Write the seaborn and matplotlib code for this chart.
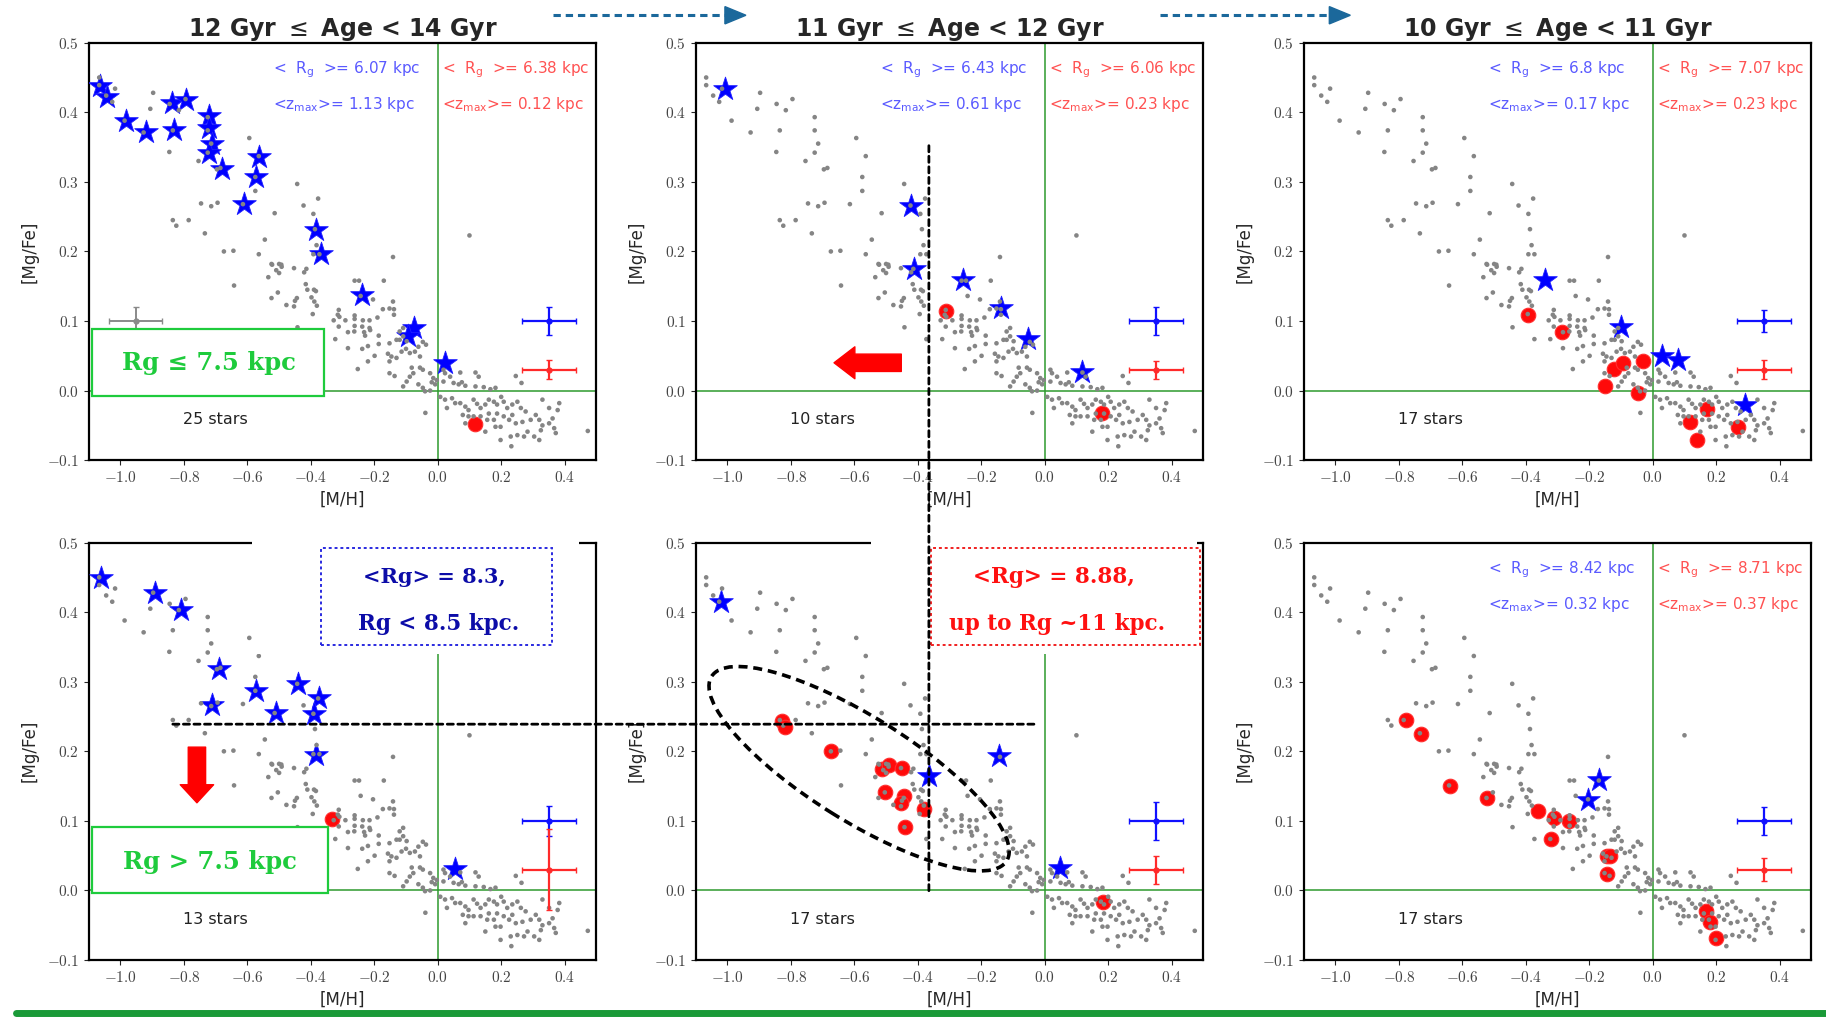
import numpy as np
import pandas as pd
import seaborn as sns
import matplotlib.pyplot as plt
from matplotlib.patches import Rectangle, Ellipse, ConnectionPatch
from matplotlib.lines import Line2D
from matplotlib.ticker import FuncFormatter
from matplotlib.transforms import IdentityTransform

sns.set_style('ticks')
plt.rcParams['font.family'] = ['DejaVu Sans']
plt.rcParams['mathtext.fontset'] = 'cm'

# gray background sample, same in every panel
bg_mh = [-1.067, -1.067, -1.017, -1.045, -1.026, -0.897, -0.906, -0.987, -0.927, -0.845,
         -0.816, -0.795, -0.835, -0.846, -0.725, -0.725, -0.714, -0.725, -0.754, -0.696,
         -0.685, -0.594, -0.564, -0.575, -0.575, -0.443, -0.377, -0.423, -0.392, -0.387,
         -0.382, -0.392, -0.373, -0.746, -0.714, -0.694, -0.614, -0.514, -0.835, -0.824,
         -0.785, -0.734, -0.545, -0.674, -0.644, -0.564, -0.522, -0.493, -0.453, -0.414,
         -0.141, -0.524, -0.500, -0.492, -0.421, -0.509, -0.500, -0.534, -0.262, -0.248,
         -0.170, -0.416, -0.411, -0.390, -0.384, -0.504, -0.524, -0.444, -0.450, -0.398,
         -0.243, -0.204, -0.141, -0.389, -0.381, -0.477, -0.453, -0.312, -0.173, -0.152,
         -0.138, -0.138, -0.394, -0.315, -0.310, -0.262, -0.262, -0.328, -0.291, -0.236,
         -0.215, -0.190, -0.442, -0.312, -0.262, -0.238, -0.215, -0.213, -0.263, -0.373,
         -0.323, -0.232, -0.229, -0.186, -0.283, -0.283, -0.238, -0.220, -0.186, -0.152,
         -0.130, -0.120, -0.098, -0.109, -0.120, -0.109, -0.220, -0.199, -0.157, -0.146,
         -0.152, -0.130, -0.114, -0.100, -0.088, -0.072, -0.061, -0.047, -0.037, -0.056,
         -0.252, -0.152, -0.136, -0.088, -0.077, -0.056, -0.047, -0.082, -0.024, -0.014,
         -0.019, -0.008, 0.018, 0.023, 0.039, 0.050, 0.066, 0.076, -0.061, -0.047,
         -0.098, -0.109, -0.642, -0.039, 0.100, 0.018, -0.003, 0.071, 0.087, 0.119,
         0.129, 0.119, 0.145, 0.166, 0.182, 0.246, 0.264, -0.040, -0.024, 0.008,
         0.023, 0.029, 0.045, 0.055, 0.071, 0.087, 0.079, 0.097, 0.113, 0.124,
         0.135, 0.150, 0.161, 0.177, 0.187, 0.200, 0.208, 0.219, 0.235, 0.251,
         0.262, 0.277, 0.235, 0.225, 0.246, 0.267, 0.293, 0.309, 0.320, 0.330,
         0.351, 0.362, 0.367, 0.378, 0.383, 0.372, 0.325, 0.320, 0.304, 0.283,
         0.272, 0.251, 0.230, 0.232, 0.198, 0.198, 0.182, 0.177, 0.156, 0.150,
         0.135, 0.113, 0.097, 0.087, 0.187, 0.161, 0.208, 0.473, 0.330, 0.351]
bg_mgfe = [0.450, 0.439, 0.434, 0.424, 0.415, 0.428, 0.405, 0.388, 0.371, 0.412,
           0.403, 0.419, 0.374, 0.343, 0.393, 0.374, 0.355, 0.342, 0.330, 0.318,
           0.320, 0.363, 0.337, 0.307, 0.287, 0.297, 0.276, 0.266, 0.254, 0.232,
           0.209, 0.196, 0.196, 0.269, 0.265, 0.270, 0.268, 0.255, 0.245, 0.237,
           0.245, 0.226, 0.217, 0.200, 0.201, 0.196, 0.181, 0.181, 0.176, 0.175,
           0.192, 0.182, 0.182, 0.178, 0.170, 0.173, 0.169, 0.163, 0.158, 0.158,
           0.158, 0.153, 0.145, 0.145, 0.143, 0.141, 0.133, 0.133, 0.129, 0.134,
           0.136, 0.131, 0.128, 0.128, 0.122, 0.123, 0.121, 0.116, 0.117, 0.118,
           0.117, 0.109, 0.110, 0.109, 0.106, 0.108, 0.103, 0.101, 0.101, 0.101,
           0.101, 0.105, 0.091, 0.092, 0.093, 0.092, 0.090, 0.087, 0.085, 0.074,
           0.074, 0.084, 0.079, 0.079, 0.084, 0.061, 0.060, 0.064, 0.067, 0.068,
           0.073, 0.073, 0.071, 0.078, 0.085, 0.090, 0.042, 0.050, 0.053, 0.049,
           0.042, 0.047, 0.056, 0.060, 0.054, 0.056, 0.063, 0.070, 0.066, 0.049,
           0.031, 0.025, 0.021, 0.020, 0.025, 0.033, 0.030, 0.033, 0.025, 0.018,
           0.012, 0.009, 0.013, 0.025, 0.020, 0.011, 0.009, 0.012, 0.009, 0.004,
           0.013, 0.006, 0.151, -0.032, 0.223, 0.030, 0.015, 0.026, 0.007, 0.026,
           0.020, 0.006, 0.005, 0.002, 0.004, 0.021, 0.011, -0.001, 0.000, -0.009,
           -0.013, -0.025, -0.011, -0.018, -0.018, -0.023, -0.035, -0.028, -0.013, -0.019,
           -0.025, -0.020, -0.013, -0.016, -0.020, -0.009, -0.016, -0.025, -0.020, -0.016,
           -0.025, -0.030, -0.035, -0.042, -0.047, -0.045, -0.042, -0.035, -0.042, -0.050,
           -0.047, -0.040, -0.054, -0.028, -0.018, -0.061, -0.057, -0.071, -0.066, -0.059,
           -0.066, -0.064, -0.066, -0.080, -0.071, -0.052, -0.052, -0.042, -0.042, -0.059,
           -0.037, -0.037, -0.037, -0.047, -0.033, -0.033, -0.037, -0.058, -0.013, -0.025]

# inner-disc stars (blue stars) per panel
star_mh = [
    [-1.063, -1.042, -0.983, -0.921, -0.839, -0.792, -0.830, -0.720, -0.720, -0.710, -0.720,
     -0.681, -0.562, -0.572, -0.611, -0.384, -0.369, -0.239, -0.076, -0.095, 0.022],
    [-1.007, -0.421, -0.411, -0.259, -0.139, -0.054, 0.116],
    [-0.341, -0.101, 0.030, 0.079, 0.292],
    [-1.060, -0.890, -0.808, -0.691, -0.712, -0.572, -0.510, -0.439, -0.374, -0.390, -0.384, 0.055],
    [-1.021, -0.364, -0.143, 0.047],
    [-0.171, -0.205],
]
star_mgfe = [
    [0.438, 0.422, 0.388, 0.371, 0.413, 0.418, 0.374, 0.394, 0.377, 0.355, 0.341,
     0.319, 0.336, 0.307, 0.268, 0.231, 0.196, 0.137, 0.090, 0.078, 0.040],
    [0.433, 0.265, 0.175, 0.159, 0.119, 0.074, 0.027],
    [0.159, 0.092, 0.050, 0.044, -0.021],
    [0.449, 0.428, 0.403, 0.319, 0.267, 0.287, 0.255, 0.297, 0.277, 0.254, 0.195, 0.031],
    [0.415, 0.164, 0.193, 0.033],
    [0.159, 0.130],
]
# outer-disc stars (red circles) per panel
circ_mh = [
    [0.118],
    [-0.311, 0.181],
    [-0.392, -0.286, -0.122, -0.094, -0.030, -0.152, -0.046, 0.170, 0.116, 0.140, 0.268],
    [-0.332],
    [-0.829, -0.820, -0.673, -0.513, -0.492, -0.449, -0.502, -0.443, -0.453, -0.382, -0.441, 0.185],
    [-0.779, -0.729, -0.639, -0.522, -0.362, -0.311, -0.265, -0.321, -0.143, -0.134, -0.143,
     0.167, 0.179, 0.199],
]
circ_mgfe = [
    [-0.048],
    [0.115, -0.032],
    [0.109, 0.084, 0.031, 0.039, 0.042, 0.006, -0.003, -0.027, -0.045, -0.071, -0.053],
    [0.102],
    [0.243, 0.235, 0.200, 0.175, 0.181, 0.176, 0.141, 0.136, 0.126, 0.117, 0.091, -0.017],
    [0.245, 0.225, 0.150, 0.133, 0.114, 0.104, 0.100, 0.074, 0.050, 0.049, 0.024,
     -0.030, -0.045, -0.069],
]

titles = [r'12 Gyr $\leq$ Age < 14 Gyr', r'11 Gyr $\leq$ Age < 12 Gyr', r'10 Gyr $\leq$ Age < 11 Gyr',
          None, None, None]
n_stars = ['25 stars', '10 stars', '17 stars', '13 stars', '17 stars', '17 stars']
rg_in = ['6.07', '6.43', '6.8', None, None, '8.42']
zmax_in = ['1.13', '0.61', '0.17', None, None, '0.32']
rg_out = ['6.38', '6.06', '7.07', None, None, '8.71']
zmax_out = ['0.12', '0.23', '0.23', None, None, '0.37']

blue_err_y = [0.02, 0.02, 0.016, 0.021, 0.027, 0.02]
red_err_y = [0.014, 0.013, 0.014, 0.058, 0.02, 0.016]

fig = plt.figure(figsize=(18.26, 10.17), dpi=100)
lefts = [0.0486, 0.381, 0.714]
bottoms = [0.5475, 0.056]
axes = []
for r in range(2):
    for c in range(3):
        axes.append(fig.add_axes([lefts[c], bottoms[r], 0.278, 0.4105]))

bg = pd.DataFrame({'mh': bg_mh, 'mgfe': bg_mgfe})
fmt = FuncFormatter(lambda v, p: f'${v:.1f}$')
blue_txt = '#5a5aff'
red_txt = '#ff5252'

for i, ax in enumerate(axes):
    ax.axhline(0, color='#2e9a2e', lw=1.1, zorder=1)
    ax.axvline(0, color='#2e9a2e', lw=1.1, zorder=1)
    sns.scatterplot(x=star_mh[i], y=star_mgfe[i], marker='*', s=320, color='#0000ff',
                    edgecolor='#2020ff', linewidth=0.6, ax=ax, zorder=3)
    sns.scatterplot(x=circ_mh[i], y=circ_mgfe[i], marker='o', s=110, color='#ff0a0a',
                    edgecolor='#ff3030', linewidth=0.8, ax=ax, zorder=3)
    sns.scatterplot(data=bg, x='mh', y='mgfe', s=11, color='#858585', edgecolor='none',
                    ax=ax, zorder=4)
    ax.errorbar(0.35, 0.1, xerr=0.085, yerr=blue_err_y[i], fmt='o', ms=3.5, color='#1010ff',
                capsize=2.5, lw=1.6, zorder=5)
    ax.errorbar(0.35, 0.03, xerr=0.085, yerr=red_err_y[i], fmt='o', ms=3.5, color='#ff2a2a',
                capsize=2.5, lw=1.6, zorder=5)
    if i == 0:
        ax.errorbar(-0.952, 0.1, xerr=0.084, yerr=0.02, fmt='o', ms=3.5, color='#8a8a8a',
                    capsize=2.5, lw=1.4, zorder=5)
    ax.set_xlim(-1.1, 0.5)
    ax.set_ylim(-0.1, 0.5)
    ax.set_xticks([-1.0, -0.8, -0.6, -0.4, -0.2, 0.0, 0.2, 0.4])
    ax.set_yticks([-0.1, 0.0, 0.1, 0.2, 0.3, 0.4, 0.5])
    ax.xaxis.set_major_formatter(fmt)
    ax.yaxis.set_major_formatter(fmt)
    ax.tick_params(labelsize=11, labelcolor='#444444', length=3.5, width=0.8)
    ax.set_xlabel('[M/H]', fontsize=12, labelpad=4)
    ax.set_ylabel('[Mg/Fe]', fontsize=12, labelpad=6)
    for sp in ax.spines.values():
        sp.set_linewidth(1.6)
        sp.set_color('black')
    ax.text(-0.70, -0.042, n_stars[i], ha='center', va='center', fontsize=11.5, color='#222222')
    if rg_in[i] is not None:
        ax.text(-0.52, 0.461, r'<  R$_{\rm g}$  >= ' + rg_in[i] + ' kpc', ha='left', va='center',
                color=blue_txt, fontsize=11, math_fontfamily='dejavusans')
        ax.text(-0.52, 0.411, r'<z$_{\rm max}$>= ' + zmax_in[i] + ' kpc', ha='left', va='center',
                color=blue_txt, fontsize=11, math_fontfamily='dejavusans')
        ax.text(0.012, 0.461, r'<  R$_{\rm g}$  >= ' + rg_out[i] + ' kpc', ha='left', va='center',
                color=red_txt, fontsize=11, math_fontfamily='dejavusans')
        ax.text(0.012, 0.411, r'<z$_{\rm max}$>= ' + zmax_out[i] + ' kpc', ha='left', va='center',
                color=red_txt, fontsize=11, math_fontfamily='dejavusans')
    if titles[i] is not None:
        ax.set_title(titles[i], fontsize=17, fontweight='bold', pad=4,
                     math_fontfamily='dejavusans')

ax1, ax2, ax3, ax4, ax5, ax6 = axes
green = '#1ecb3c'

# radius boxes
ax1.add_patch(Rectangle((-1.089, -0.008), 0.732, 0.096, facecolor='white', edgecolor=green,
                        lw=1.6, zorder=6))
ax1.text(-0.722, 0.040, 'Rg ≤ 7.5 kpc', ha='center', va='center', color=green, fontsize=17.5,
         fontweight='bold', family='DejaVu Serif', zorder=7)
ax4.add_patch(Rectangle((-1.089, -0.004), 0.743, 0.095, facecolor='white', edgecolor=green,
                        lw=1.6, zorder=6))
ax4.text(-0.718, 0.041, 'Rg > 7.5 kpc', ha='center', va='center', color=green, fontsize=17.5,
         fontweight='bold', family='DejaVu Serif', zorder=7)

# white patches hiding the lower-row headers
ax4.add_patch(Rectangle((-0.585, 0.34), 1.03, 0.18, facecolor='white', edgecolor='none',
                        clip_on=False, zorder=10))
ax5.add_patch(Rectangle((-0.549, 0.34), 1.03, 0.18, facecolor='white', edgecolor='none',
                        clip_on=False, zorder=10))

ax4.add_patch(Rectangle((-0.368, 0.353), 0.728, 0.139, facecolor='none', edgecolor='#2a2ae0',
                        lw=1.4, ls=(0, (1.5, 1.5)), clip_on=False, zorder=11))
ax4.text(-0.012, 0.450, '<Rg> = 8.3,', ha='center', va='center', color='#0c0ca8', fontsize=15,
         fontweight='bold', family='DejaVu Serif', zorder=12)
ax4.text(0.003, 0.383, 'Rg < 8.5 kpc.', ha='center', va='center', color='#0c0ca8', fontsize=15.5,
         fontweight='bold', family='DejaVu Serif', zorder=12)
ax5.add_patch(Rectangle((-0.357, 0.353), 0.845, 0.139, facecolor='none', edgecolor='#f02020',
                        lw=1.4, ls=(0, (1.5, 1.5)), clip_on=False, zorder=11))
ax5.text(0.029, 0.450, '<Rg> = 8.88,', ha='center', va='center', color='#ff1010', fontsize=15.5,
         fontweight='bold', family='DejaVu Serif', zorder=12)
ax5.text(0.040, 0.383, 'up to Rg ~11 kpc.', ha='center', va='center', color='#ff1010', fontsize=15.5,
         fontweight='bold', family='DejaVu Serif', zorder=12)

# red block arrows
ax2.annotate('', xy=(-0.664, 0.040), xytext=(-0.452, 0.040),
             arrowprops=dict(arrowstyle='simple,head_length=15,head_width=23,tail_width=12.5',
                             color='#ff0000', mutation_scale=1, shrinkA=0, shrinkB=0), zorder=6)
ax4.annotate('', xy=(-0.759, 0.126), xytext=(-0.759, 0.206),
             arrowprops=dict(arrowstyle='simple,head_length=13,head_width=24,tail_width=12.5',
                             color='#ff0000', mutation_scale=1, shrinkA=0, shrinkB=0), zorder=6)

# black dashed guide lines across panels
hline = ConnectionPatch(xyA=(-0.835, 0.239), coordsA=ax4.transData,
                        xyB=(-0.026, 0.239), coordsB=ax5.transData,
                        color='black', lw=2, ls=(0, (2.2, 1.6)), zorder=20)
fig.add_artist(hline)
vline = ConnectionPatch(xyA=(-0.365, 0.352), coordsA=ax2.transData,
                        xyB=(-0.365, -0.004), coordsB=ax5.transData,
                        color='black', lw=2, ls=(0, (2.2, 1.6)), zorder=20)
fig.add_artist(vline)

# dashed ellipse around the outer-disc group
cx, cy = ax5.transData.transform((-0.585, 0.175))
fig.add_artist(Ellipse((cx, cy), 348, 104, angle=-32, transform=IdentityTransform(),
                       fill=False, edgecolor='black', lw=2.6, ls=(0, (2.5, 1.6)), zorder=21))

# age-sequence arrows at the top
arrow_c = '#1b689b'
for x0, x1 in [(0.303, 0.397), (0.635, 0.728)]:
    fig.add_artist(Line2D([x0, x1], [0.985, 0.985], transform=fig.transFigure, color=arrow_c,
                          lw=2.2, ls=(0, (2.4, 1.6))))
    fig.add_artist(plt.Polygon([[x1, 0.9765], [x1 + 0.0115, 0.985], [x1, 0.9935]], closed=True,
                               transform=fig.transFigure, color=arrow_c))

# green bar at the bottom
fig.add_artist(Line2D([0.0085, 1.0], [0.0035, 0.0035], transform=fig.transFigure,
                      color='#1a9a38', lw=5))

fig.savefig('out.png', dpi=100)
